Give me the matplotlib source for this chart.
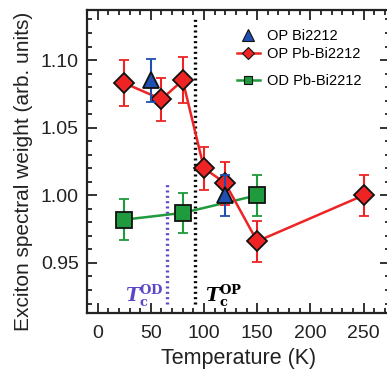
import matplotlib
matplotlib.use("Agg")
import matplotlib.pyplot as plt
from matplotlib.lines import Line2D
from matplotlib.ticker import MultipleLocator

plt.rcParams['font.family'] = ['Liberation Sans', 'DejaVu Sans']
plt.rcParams['mathtext.fontset'] = 'dejavuserif'

# Data
op_pb_T = [25, 60, 80, 100, 120, 150, 250]
op_pb_w = [1.083, 1.071, 1.085, 1.020, 1.009, 0.966, 1.000]
op_pb_e = [0.017, 0.016, 0.017, 0.016, 0.016, 0.015, 0.015]

op_T = [50, 120]
op_w = [1.085, 1.000]
op_e = [0.016, 0.015]

od_pb_T = [25, 80, 150]
od_pb_w = [0.982, 0.987, 1.000]
od_pb_e = [0.015, 0.015, 0.015]

tc_od = 65
tc_op = 92

red = '#ee2424'
blue = '#1f4fb0'
green = '#1f9a3c'
purple = '#5b48c8'

fig = plt.figure(figsize=(3.87, 3.70), dpi=100)
ax = fig.add_axes([87/387, 1-313/370, 1.008-87/387, (313-10)/370])

ax.plot([tc_od, tc_od], [0.920, 1.010], linestyle=(0, (0.6, 1.0)), color=purple, lw=2.4, zorder=1.5)
ax.plot([tc_op, tc_op], [0.920, 1.130], linestyle=(0, (0.6, 1.0)), color='black', lw=2.4, zorder=1.5)

ek = dict(capsize=3.3, capthick=1.5, elinewidth=1.5, markeredgecolor='#111111', markeredgewidth=1.3)
ax.errorbar(od_pb_T, od_pb_w, yerr=od_pb_e, color=green, marker='s', ms=11, lw=1.8,
            ecolor=green, zorder=3, **ek)
ax.errorbar(op_pb_T, op_pb_w, yerr=op_pb_e, color=red, marker='D', ms=10, lw=1.8,
            ecolor=red, zorder=4, **ek)
ax.errorbar(op_T, op_w, yerr=op_e, color=blue, marker='^', ms=12, lw=0, linestyle='none',
            ecolor=blue, zorder=5, **ek)

ax.set_xlim(-10, 275)
ax.set_ylim(0.913, 1.137)
ax.xaxis.set_major_locator(MultipleLocator(50))
ax.xaxis.set_minor_locator(MultipleLocator(10))
ax.yaxis.set_major_locator(MultipleLocator(0.05))
ax.yaxis.set_minor_locator(MultipleLocator(0.01))
ax.yaxis.set_major_formatter(matplotlib.ticker.FormatStrFormatter('%.2f'))
ax.tick_params(which='both', direction='in', top=True, right=True, color='#222222', width=1.3)
ax.tick_params(which='major', length=7, labelsize=14, colors='#222222')
ax.tick_params(axis='x', which='major', pad=9)
ax.tick_params(axis='y', which='major', pad=6)
ax.tick_params(which='minor', length=3.5)
for s in ax.spines.values():
    s.set_linewidth(1.6)
    s.set_color('#222222')

ax.set_xlabel('Temperature (K)', fontsize=15.5, color='#222222', labelpad=4)
ax.set_ylabel('Exciton spectral weight (arb. units)', fontsize=15, color='#222222')
ax.yaxis.set_label_coords(-0.178, 0.469)

ax.text(26, 0.921, r'$\mathbfit{T}_{\mathbf{c}}^{\mathbf{OD}}$', color=purple, fontsize=13.5)
ax.text(101, 0.921, r'$\mathbfit{T}_{\mathbf{c}}^{\mathbf{OP}}$', color='black', fontsize=13.5)

h1 = Line2D([], [], color=blue, marker='^', ms=8, linestyle='none', markeredgecolor='#111111', markeredgewidth=0.8)
h2 = Line2D([], [], color=red, marker='D', ms=6, lw=1.8, markeredgecolor='#111111', markeredgewidth=0.8)
h3 = Line2D([], [], color=green, marker='s', ms=6, lw=1.8, markeredgecolor='#111111', markeredgewidth=0.8)
leg1 = ax.legend([h1, h2], ['OP Bi2212', 'OP Pb-Bi2212'], loc='upper left',
                 bbox_to_anchor=(237/387, 1-29/370), bbox_transform=fig.transFigure,
                 frameon=False, fontsize=10.5, borderpad=0, borderaxespad=0,
                 handlelength=1.55, handletextpad=0.5, labelspacing=0.25)
ax.add_artist(leg1)
ax.legend([h3], ['OD Pb-Bi2212'], loc='upper left',
          bbox_to_anchor=(237/387, 1-74/370), bbox_transform=fig.transFigure,
          frameon=False, fontsize=10.5, borderpad=0, borderaxespad=0,
          handlelength=1.55, handletextpad=0.5)

fig.savefig('out.png', dpi=100)
